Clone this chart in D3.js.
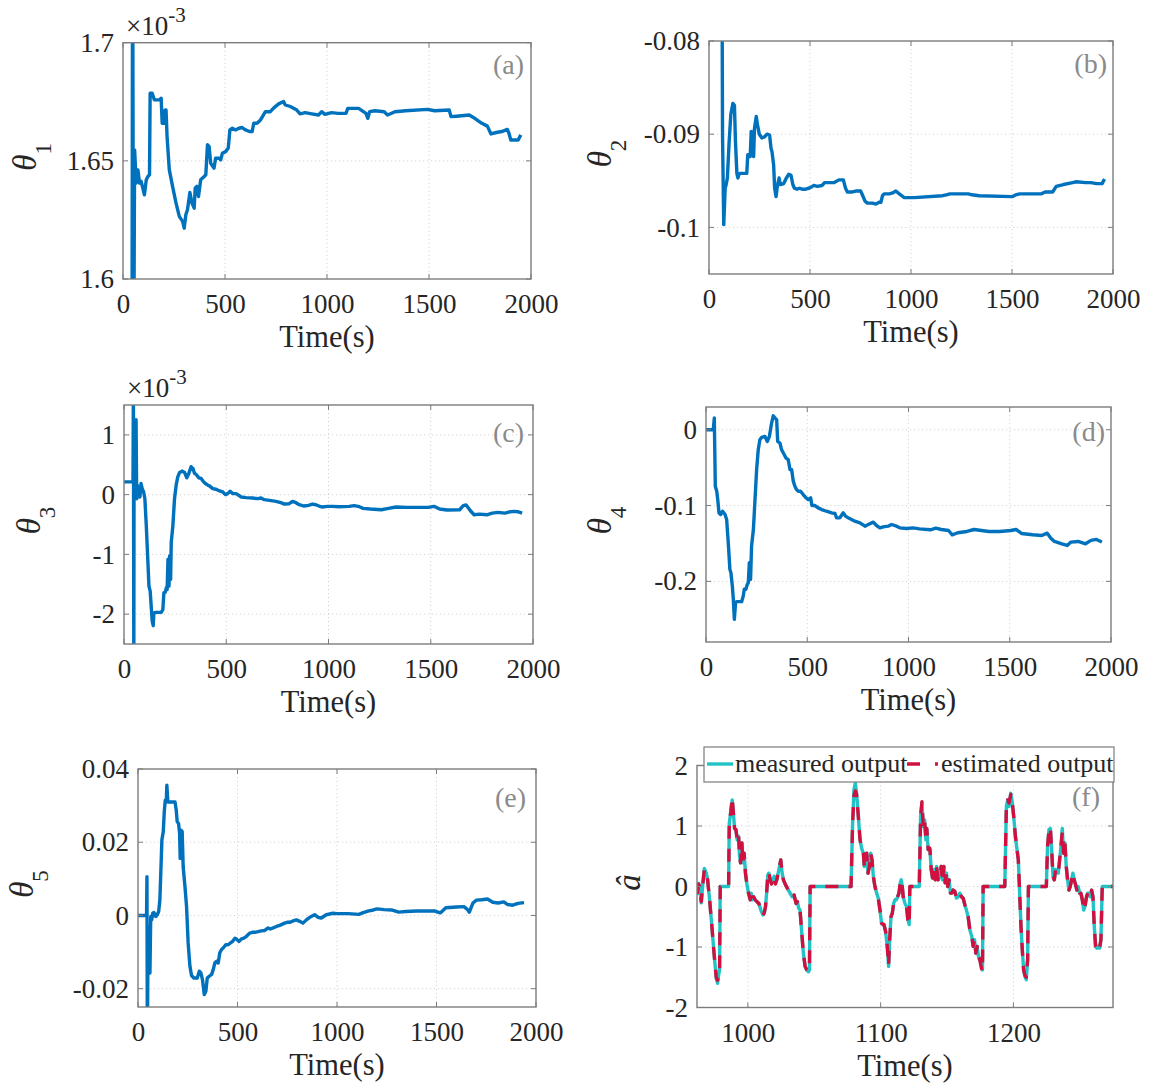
<!DOCTYPE html>
<html><head><meta charset="utf-8">
<script src="https://cdn.jsdelivr.net/npm/d3@7"></script>
<style>
body{margin:0;background:#fff}
svg{display:block}
svg text, svg tspan{font-family:"Liberation Serif","Times New Roman",serif !important}
</style>
</head><body>
<svg id="c" width="1150" height="1090"></svg>
<script>
// ---------- data ----------
const timeTicks=[0,500,1000,1500,2000];
const fTimeTicks=[1000,1100,1200];
const ticksA=[1.6,1.65,1.7];
const ticksB=[-0.1,-0.09,-0.08];
const ticksC=[-2,-1,0,1];
const ticksD=[-0.2,-0.1,0];
const ticksE=[-0.02,0,0.02,0.04];
const ticksF=[-2,-1,0,1,2];
const panelTags=["(a)","(b)","(c)","(d)","(e)","(f)"];
const legendLabels=["measured output","estimated output"];

// theta1 (x1e-3)
const theta1=[[0,1.55],[44,1.55],[47,1.76],[52,1.55],[57,1.6546],[65,1.6406],[73,1.6462],[81,1.6406],[89,1.6413],[105,1.6356],[114,1.642],[122,1.6434],[130,1.6441],[133,1.6786],[143,1.6786],[154,1.6758],[179,1.6758],[187,1.6765],[192,1.6659],[200,1.6659],[206,1.6715],[211,1.6715],[216,1.6603],[227,1.6462],[243,1.6392],[260,1.6321],[276,1.6265],[292,1.6244],[300,1.6215],[308,1.6272],[316,1.6293],[328,1.6366],[338,1.6321],[349,1.63],[354,1.6385],[362,1.6392],[370,1.6349],[381,1.642],[398,1.6434],[406,1.6441],[414,1.6568],[422,1.6561],[430,1.649],[446,1.6469],[454,1.6511],[471,1.6511],[479,1.6504],[487,1.6532],[503,1.6539],[516,1.6554],[524,1.6631],[536,1.6638],[552,1.6631],[568,1.6638],[584,1.6641],[600,1.6631],[620,1.6624],[633,1.6624],[641,1.6659],[657,1.6659],[674,1.6673],[682,1.6685],[698,1.6708],[722,1.6708],[738,1.6723],[763,1.6741],[787,1.6751],[795,1.6737],[820,1.673],[852,1.6715],[868,1.6699],[893,1.6704],[925,1.6699],[958,1.6694],[974,1.6708],[990,1.6697],[1022,1.6704],[1055,1.6701],[1093,1.6701],[1102,1.6722],[1155,1.6722],[1191,1.6701],[1200,1.668],[1209,1.6708],[1235,1.6712],[1280,1.6708],[1297,1.6694],[1333,1.6708],[1386,1.6712],[1493,1.6718],[1528,1.6712],[1599,1.6715],[1608,1.6687],[1635,1.6689],[1697,1.6694],[1724,1.668],[1759,1.6659],[1786,1.6647],[1804,1.6614],[1830,1.662],[1857,1.6624],[1884,1.6633],[1892,1.6617],[1901,1.6588],[1937,1.6588],[1950,1.661]];

const theta2=[[0,-0.07],[64,-0.07],[67,-0.0901],[73,-0.0997],[80,-0.0958],[85,-0.0954],[91,-0.0947],[99,-0.0911],[108,-0.0879],[118,-0.0867],[126,-0.0869],[131,-0.0908],[138,-0.0942],[143,-0.0947],[149,-0.0943],[154,-0.0942],[187,-0.0942],[192,-0.0922],[199,-0.0922],[204,-0.0924],[209,-0.0897],[217,-0.0899],[221,-0.0924],[225,-0.0894],[234,-0.0881],[240,-0.089],[249,-0.09],[262,-0.0904],[274,-0.0903],[287,-0.09],[300,-0.0901],[307,-0.0915],[312,-0.0919],[320,-0.0933],[325,-0.0958],[332,-0.0967],[337,-0.0958],[342,-0.0952],[347,-0.0947],[353,-0.0954],[370,-0.0953],[383,-0.0947],[395,-0.0943],[406,-0.0944],[415,-0.0954],[423,-0.0958],[436,-0.0959],[448,-0.0958],[461,-0.0959],[478,-0.0959],[494,-0.0958],[511,-0.0956],[519,-0.0955],[536,-0.0956],[560,-0.0955],[572,-0.0952],[602,-0.0952],[618,-0.0952],[643,-0.0949],[665,-0.0949],[676,-0.0958],[685,-0.0962],[710,-0.0962],[726,-0.0961],[751,-0.0961],[759,-0.0965],[773,-0.0972],[784,-0.0974],[809,-0.0974],[826,-0.0975],[842,-0.0973],[851,-0.0973],[859,-0.0966],[867,-0.0964],[880,-0.0964],[892,-0.0964],[909,-0.0963],[925,-0.0961],[942,-0.0964],[967,-0.0968],[983,-0.0968],[1016,-0.0968],[1156,-0.0966],[1175,-0.0965],[1193,-0.0964],[1284,-0.0964],[1302,-0.0965],[1338,-0.0966],[1501,-0.0967],[1519,-0.0965],[1538,-0.0964],[1646,-0.0964],[1664,-0.0962],[1701,-0.0962],[1719,-0.0956],[1755,-0.0954],[1800,-0.0952],[1819,-0.0951],[1864,-0.0952],[1891,-0.0952],[1918,-0.0953],[1946,-0.0953],[1958,-0.0948]];

// theta3 (x1e-3)
const theta3=[[0,0.214],[44,0.214],[46,1.8],[48,-2.8],[49,-0.068],[52,1.227],[55,0.214],[59,1.255],[62,-0.068],[65,0.158],[68,-0.039],[73,0.101],[78,-0.039],[83,0.186],[89,0.101],[96,0.045],[102,-0.068],[109,-0.518],[117,-1.137],[122,-1.531],[128,-1.615],[133,-1.868],[138,-2.121],[143,-2.194],[146,-1.981],[154,-1.97],[182,-1.97],[190,-1.925],[195,-1.643],[202,-1.632],[207,-1.559],[211,-1.587],[215,-1.081],[220,-1.531],[223,-1.025],[228,-1.418],[231,-0.799],[239,-0.518],[247,-0.068],[255,0.158],[263,0.298],[272,0.371],[285,0.394],[296,0.371],[307,0.281],[317,0.355],[328,0.467],[337,0.439],[345,0.355],[353,0.338],[366,0.281],[377,0.27],[389,0.214],[398,0.186],[410,0.158],[418,0.146],[434,0.101],[450,0.09],[467,0.062],[483,0.045],[496,0],[507,0.017],[519,0.056],[532,0.017],[548,0.017],[561,-0.011],[572,-0.039],[597,-0.051],[629,-0.056],[654,-0.068],[670,-0.056],[686,-0.084],[711,-0.096],[743,-0.113],[767,-0.135],[784,-0.158],[808,-0.152],[824,-0.113],[841,-0.135],[857,-0.169],[881,-0.191],[902,-0.18],[922,-0.158],[938,-0.169],[954,-0.191],[970,-0.208],[995,-0.197],[1020,-0.197],[1052,-0.203],[1101,-0.197],[1125,-0.185],[1151,-0.202],[1169,-0.23],[1205,-0.241],[1258,-0.253],[1294,-0.23],[1329,-0.207],[1383,-0.213],[1436,-0.213],[1489,-0.213],[1516,-0.196],[1543,-0.241],[1579,-0.258],[1641,-0.253],[1659,-0.185],[1673,-0.174],[1694,-0.27],[1712,-0.337],[1739,-0.326],[1774,-0.337],[1801,-0.309],[1828,-0.298],[1863,-0.309],[1890,-0.286],[1908,-0.281],[1925,-0.286],[1947,-0.309]];

const theta4=[[0,0],[36,0],[41,0.0154],[46,-0.0746],[53,-0.0811],[58,-0.0921],[64,-0.1096],[72,-0.1118],[82,-0.1075],[94,-0.1118],[102,-0.1184],[110,-0.1491],[118,-0.1842],[123,-0.1886],[130,-0.2061],[135,-0.2237],[140,-0.25],[146,-0.2281],[151,-0.2268],[176,-0.2268],[184,-0.2193],[189,-0.2105],[197,-0.2105],[204,-0.2039],[209,-0.2018],[214,-0.1754],[220,-0.1974],[225,-0.1535],[234,-0.1316],[242,-0.0921],[250,-0.0526],[258,-0.0263],[266,-0.0132],[275,-0.0101],[291,-0.0088],[303,-0.0154],[313,-0.0088],[324,0.0088],[332,0.0184],[341,0.0154],[349,0.0132],[354,-0.0154],[365,-0.0175],[373,-0.0263],[382,-0.0307],[395,-0.0373],[406,-0.0395],[415,-0.0526],[423,-0.0526],[431,-0.068],[439,-0.0746],[447,-0.0789],[456,-0.0811],[467,-0.0811],[480,-0.0855],[494,-0.0899],[505,-0.0921],[517,-0.0899],[523,-0.1],[538,-0.1],[554,-0.1031],[571,-0.1053],[595,-0.1075],[620,-0.1096],[637,-0.1105],[645,-0.1162],[661,-0.1162],[678,-0.1096],[689,-0.114],[702,-0.1162],[719,-0.1184],[735,-0.1206],[760,-0.1228],[785,-0.1272],[801,-0.125],[826,-0.1219],[842,-0.1263],[859,-0.1294],[875,-0.1281],[900,-0.1272],[916,-0.125],[941,-0.1272],[957,-0.1294],[990,-0.1303],[1023,-0.1294],[1054,-0.1307],[1108,-0.132],[1135,-0.1298],[1162,-0.1316],[1198,-0.1329],[1216,-0.1386],[1243,-0.1359],[1288,-0.1342],[1324,-0.1316],[1360,-0.1329],[1397,-0.1342],[1450,-0.1342],[1505,-0.1329],[1531,-0.1316],[1558,-0.1368],[1613,-0.1386],[1658,-0.1395],[1685,-0.1364],[1703,-0.143],[1721,-0.1474],[1757,-0.1504],[1784,-0.1526],[1802,-0.1482],[1838,-0.1474],[1874,-0.1504],[1901,-0.146],[1928,-0.1447],[1955,-0.1482]];

const theta5=[[0,0],[43,0],[45,0.0106],[47,-0.035],[51,-0.003],[55,-0.0157],[57,-0.0139],[60,-0.0157],[64,-0.0003],[69,-0.0012],[74,0.0006],[80,0.0008],[89,-0.0003],[97,0.0002],[104,0.0011],[110,0.0043],[115,0.0124],[120,0.0206],[127,0.0229],[132,0.0283],[137,0.0315],[142,0.031],[145,0.0356],[150,0.031],[161,0.031],[186,0.031],[192,0.0288],[197,0.0256],[204,0.0251],[209,0.0224],[212,0.0156],[216,0.0233],[222,0.0229],[227,0.0133],[236,0.0079],[244,0.0024],[252,-0.0075],[261,-0.0139],[269,-0.0164],[281,-0.0171],[298,-0.0171],[308,-0.0152],[316,-0.0157],[324,-0.0175],[333,-0.0216],[341,-0.0207],[348,-0.0171],[358,-0.0166],[370,-0.0161],[378,-0.0148],[386,-0.013],[395,-0.0125],[403,-0.013],[411,-0.0102],[420,-0.0093],[428,-0.0089],[441,-0.008],[453,-0.008],[465,-0.0075],[475,-0.0071],[487,-0.0062],[498,-0.0066],[508,-0.0071],[520,-0.0064],[532,-0.0062],[545,-0.0057],[562,-0.0048],[575,-0.0046],[587,-0.0046],[604,-0.0044],[620,-0.0042],[637,-0.0041],[654,-0.0034],[665,-0.0037],[679,-0.0034],[696,-0.003],[712,-0.0027],[737,-0.0021],[754,-0.0018],[762,-0.0019],[779,-0.0015],[796,-0.0012],[813,-0.0016],[829,-0.0021],[846,-0.0012],[863,-0.0005],[888,0.0002],[905,-0.0005],[921,-0.0007],[946,0.0002],[980,0.0006],[1000,0.0005],[1055,0.0005],[1110,0.0003],[1128,0.0007],[1155,0.0012],[1183,0.0015],[1201,0.0018],[1237,0.0016],[1274,0.0015],[1310,0.0009],[1346,0.0011],[1401,0.0012],[1456,0.0012],[1492,0.0012],[1519,0.0007],[1547,0.0021],[1601,0.0023],[1638,0.0024],[1656,0.0016],[1665,0.0009],[1683,0.0034],[1701,0.0042],[1728,0.0043],[1756,0.0045],[1783,0.0036],[1810,0.0034],[1838,0.0037],[1856,0.003],[1883,0.0028],[1910,0.0033],[1940,0.0035]];

const measured=[[962.0,-0.14],[962.9,0.05],[963.7,0],[964.9,-0.27],[965.9,0],[967.2,0.30],[968.7,0.22],[969.7,0.11],[971.2,-0.22],[972.9,-0.66],[974.1,-0.99],[975.4,-1.32],[976.2,-1.52],[977.2,-1.60],[978.2,-1.43],[978.7,-1.38],[979.2,0],[985.5,0],[986.0,1.05],[987.2,1.24],[988.2,1.43],[989.0,1.24],[990.0,0.96],[991.0,0.94],[992.0,0.77],[993.0,0.83],[993.7,0.52],[994.5,0.39],[995.5,0.72],[996.2,0.39],[997.2,0.55],[998.2,0.22],[999.2,0.05],[1000.5,-0.11],[1001.8,-0.22],[1002.5,-0.11],[1003.3,-0.22],[1004.3,-0.17],[1005.5,-0.22],[1006.8,-0.25],[1008.3,-0.28],[1009.8,-0.39],[1011.3,-0.47],[1012.3,-0.44],[1013.3,-0.33],[1014.3,-0.06],[1015.0,0.19],[1015.8,0.22],[1016.8,0.11],[1017.8,0.06],[1018.8,0.11],[1019.8,0.17],[1020.8,0.06],[1021.8,0.11],[1022.8,0.22],[1023.8,0.33],[1024.8,0.44],[1025.8,0.22],[1026.8,0.11],[1028.3,0.03],[1029.8,-0.03],[1031.8,-0.11],[1033.3,-0.17],[1034.8,-0.14],[1036.3,-0.28],[1037.3,-0.25],[1038.3,-0.36],[1039.3,-0.39],[1040.6,-0.77],[1041.8,-1.10],[1043.1,-1.32],[1044.4,-1.38],[1045.6,-1.41],[1046.4,-1.38],[1046.9,0],[1077.7,0],[1078.9,1.05],[1079.9,1.60],[1080.9,1.71],[1081.9,1.54],[1083.2,1.16],[1084.5,0.77],[1085.7,0.63],[1087.0,0.55],[1087.7,0.33],[1088.5,0.50],[1089.5,0.55],[1090.5,0.22],[1091.5,0.33],[1092.5,0.55],[1093.5,0.44],[1094.5,0.17],[1095.7,0],[1097.0,-0.11],[1098.2,-0.19],[1099.5,-0.39],[1100.7,-0.61],[1102.5,-0.63],[1103.7,-0.74],[1105.0,-0.99],[1106.0,-1.32],[1106.8,-0.88],[1107.8,-0.50],[1108.8,-0.44],[1109.8,-0.28],[1110.8,-0.22],[1111.8,-0.22],[1112.8,-0.17],[1113.8,-0.11],[1114.8,0.06],[1115.5,0.11],[1116.3,0],[1117.0,-0.17],[1118.3,-0.28],[1119.5,-0.33],[1120.5,-0.55],[1121.5,-0.63],[1122.0,0],[1129.1,0],[1130.1,1.16],[1131.1,1.38],[1132.1,0.99],[1133.1,1.10],[1134.1,0.77],[1134.8,0.94],[1135.8,0.61],[1137.1,0.61],[1138.1,0.28],[1139.1,0.14],[1140.1,0.28],[1141.1,0.11],[1142.1,0.33],[1143.3,0.11],[1144.6,0.17],[1145.6,0.33],[1146.6,0.11],[1147.6,0.33],[1148.6,0.06],[1149.6,0.22],[1150.6,0],[1151.6,0.11],[1152.6,-0.11],[1153.6,-0.11],[1154.6,-0.06],[1155.9,-0.08],[1157.1,-0.19],[1158.4,-0.17],[1159.6,-0.11],[1160.9,-0.17],[1162.1,-0.19],[1163.4,-0.30],[1164.6,-0.39],[1165.9,-0.50],[1167.2,-0.72],[1168.7,-0.83],[1169.7,-0.99],[1170.7,-0.88],[1171.7,-1.10],[1172.7,-0.99],[1173.7,-1.16],[1174.7,-1.21],[1175.9,-1.32],[1176.7,-1.38],[1177.2,0],[1193.5,0],[1194.7,1.32],[1195.7,1.43],[1196.7,1.32],[1198.0,1.54],[1199.2,1.38],[1200.2,1.16],[1201.5,0.83],[1202.7,0.61],[1203.7,0.44],[1204.7,-0.11],[1205.7,-0.66],[1206.7,-1.05],[1207.7,-1.38],[1208.7,-1.49],[1209.7,-1.54],[1210.7,-1.21],[1211.3,0],[1224.8,0],[1225.7,0.66],[1226.8,0.94],[1227.8,0.96],[1228.8,0.61],[1229.8,0.17],[1230.8,0.11],[1231.8,0.28],[1232.8,0.25],[1233.8,0.22],[1234.8,0.44],[1235.8,0.66],[1236.8,0.96],[1237.8,0.55],[1238.8,0.72],[1239.8,0.33],[1240.8,0.11],[1241.8,-0.06],[1242.8,0],[1243.8,0.11],[1244.8,0.22],[1245.8,0.11],[1246.8,0.03],[1247.8,-0.06],[1248.8,0],[1249.8,-0.11],[1250.8,-0.11],[1251.9,-0.22],[1252.9,-0.39],[1253.9,-0.33],[1254.9,-0.19],[1255.9,-0.11],[1256.9,-0.11],[1257.9,-0.17],[1258.9,-0.06],[1259.9,-0.17],[1260.9,-0.66],[1261.9,-0.99],[1262.9,-1.02],[1263.9,-0.99],[1264.9,-1.02],[1265.9,-0.88],[1266.9,0],[1275,0]];

const estimated=[[962.0,-0.12],[962.9,0.04],[963.7,0],[964.9,-0.25],[965.9,0],[967.2,0.28],[968.7,0.22],[969.7,0.11],[971.2,-0.22],[972.9,-0.66],[974.1,-0.99],[975.4,-1.32],[976.2,-1.50],[977.2,-1.55],[978.2,-1.43],[978.7,-1.38],[979.2,0],[985.5,0],[986.0,1.05],[987.2,1.24],[988.2,1.47],[989.0,1.24],[990.0,0.96],[991.0,0.94],[992.0,0.77],[993.0,0.86],[993.7,0.52],[994.5,0.39],[995.5,0.72],[996.2,0.39],[997.2,0.55],[998.2,0.22],[999.2,0.05],[1000.5,-0.11],[1001.8,-0.22],[1002.5,-0.11],[1003.3,-0.22],[1004.3,-0.17],[1005.5,-0.22],[1006.8,-0.25],[1008.3,-0.28],[1009.8,-0.39],[1011.3,-0.47],[1012.3,-0.44],[1013.3,-0.33],[1014.3,-0.06],[1015.0,0.19],[1015.8,0.24],[1016.8,0.11],[1017.8,0.04],[1018.8,0.11],[1019.8,0.17],[1020.8,0.04],[1021.8,0.11],[1022.8,0.22],[1023.8,0.33],[1024.8,0.44],[1025.8,0.22],[1026.8,0.11],[1028.3,0.03],[1029.8,-0.03],[1031.8,-0.11],[1033.3,-0.17],[1034.8,-0.14],[1036.3,-0.28],[1037.3,-0.25],[1038.3,-0.36],[1039.3,-0.39],[1040.6,-0.77],[1041.8,-1.10],[1043.1,-1.32],[1044.4,-1.38],[1045.6,-1.40],[1046.4,-1.38],[1046.9,0],[1077.7,0],[1078.9,1.05],[1079.9,1.50],[1080.9,1.58],[1081.9,1.52],[1083.2,1.16],[1084.5,0.77],[1085.7,0.63],[1087.0,0.55],[1087.7,0.33],[1088.5,0.52],[1089.5,0.55],[1090.5,0.22],[1091.5,0.33],[1092.5,0.55],[1093.5,0.44],[1094.5,0.17],[1095.7,0],[1097.0,-0.11],[1098.2,-0.19],[1099.5,-0.39],[1100.7,-0.61],[1102.5,-0.63],[1103.7,-0.74],[1105.0,-0.99],[1106.0,-1.30],[1106.8,-0.88],[1107.8,-0.50],[1108.8,-0.44],[1109.8,-0.28],[1110.8,-0.22],[1111.8,-0.22],[1112.8,-0.17],[1113.8,-0.11],[1114.8,0.06],[1115.5,0.11],[1116.3,0],[1117.0,-0.17],[1118.3,-0.28],[1119.5,-0.33],[1120.5,-0.55],[1121.5,-0.63],[1122.0,0],[1129.1,0],[1130.1,1.16],[1131.1,1.40],[1132.1,0.99],[1133.1,1.10],[1134.1,0.77],[1134.8,0.96],[1135.8,0.61],[1137.1,0.63],[1138.1,0.28],[1139.1,0.14],[1140.1,0.28],[1141.1,0.11],[1142.1,0.33],[1143.3,0.11],[1144.6,0.17],[1145.6,0.33],[1146.6,0.08],[1147.6,0.33],[1148.6,0.06],[1149.6,0.22],[1150.6,0],[1151.6,0.11],[1152.6,-0.11],[1153.6,-0.11],[1154.6,-0.06],[1155.9,-0.08],[1157.1,-0.19],[1158.4,-0.17],[1159.6,-0.11],[1160.9,-0.17],[1162.1,-0.19],[1163.4,-0.30],[1164.6,-0.39],[1165.9,-0.50],[1167.2,-0.72],[1168.7,-0.83],[1169.7,-0.99],[1170.7,-0.88],[1171.7,-1.10],[1172.7,-0.99],[1173.7,-1.16],[1174.7,-1.21],[1175.9,-1.35],[1176.7,-1.40],[1177.2,0],[1193.5,0],[1194.7,1.32],[1195.7,1.43],[1196.7,1.38],[1198.0,1.52],[1199.2,1.38],[1200.2,1.16],[1201.5,0.83],[1202.7,0.61],[1203.7,0.44],[1204.7,-0.11],[1205.7,-0.66],[1206.7,-1.05],[1207.7,-1.38],[1208.7,-1.47],[1209.7,-1.50],[1210.7,-1.21],[1211.3,0],[1224.8,0],[1225.7,0.66],[1226.8,0.94],[1227.8,0.98],[1228.8,0.61],[1229.8,0.17],[1230.8,0.11],[1231.8,0.28],[1232.8,0.25],[1233.8,0.22],[1234.8,0.44],[1235.8,0.66],[1236.8,0.90],[1237.8,0.55],[1238.8,0.72],[1239.8,0.33],[1240.8,0.11],[1241.8,-0.06],[1242.8,0],[1243.8,0.11],[1244.8,0.22],[1245.8,0.11],[1246.8,0.03],[1247.8,-0.06],[1248.8,0],[1249.8,-0.11],[1250.8,-0.11],[1251.9,-0.22],[1252.9,-0.39],[1253.9,-0.33],[1254.9,-0.19],[1255.9,-0.11],[1256.9,-0.11],[1257.9,-0.17],[1258.9,-0.06],[1259.9,-0.17],[1260.9,-0.66],[1261.9,-0.99],[1262.9,-1.04],[1263.9,-0.99],[1264.9,-1.02],[1265.9,-0.88],[1266.9,0],[1275,0]];

// ---------- layout ----------
const panels=[
 {box:[123,42.7,531,279],xd:[0,2000],yd:[1.6,1.7],xt:timeTicks,yt:ticksA,series:[theta1],ylab:["θ","1"],labX:36,exp:true,tag:[524,31]},
 {box:[709,41,1113,274],xd:[0,2000],yd:[-0.105,-0.08],xt:timeTicks,yt:ticksB,series:[theta2],ylab:["θ","2"],labX:611,exp:false,tag:[1107,32]},
 {box:[124,405,533,644],xd:[0,2000],yd:[-2.5,1.5],xt:timeTicks,yt:ticksC,series:[theta3],ylab:["θ","3"],labX:40,exp:true,tag:[524,37]},
 {box:[706,407,1111,642],xd:[0,2000],yd:[-0.28,0.03],xt:timeTicks,yt:ticksD,series:[theta4],ylab:["θ","4"],labX:611,exp:false,tag:[1105,34]},
 {box:[138,769,536,1007],xd:[0,2000],yd:[-0.025,0.04],xt:timeTicks,yt:ticksE,series:[theta5],ylab:["θ","5"],labX:33,exp:false,tag:[526,38]},
 {box:[697,765.5,1113,1007.5],xd:[961.7,1275],yd:[-2,2],xt:fTimeTicks,yt:ticksF,series:[measured,estimated],ylab:["â",""],labX:640,exp:false,tag:[1100,40]}
];

const svg=d3.select('#c');
const boxColor='#7c7c7c', textColor='#262626';
const SERIF='"Liberation Serif","Times New Roman",serif';

panels.forEach((p,i)=>{
  const [x0,y0,x1,y1]=p.box;
  const x=d3.scaleLinear().domain(p.xd).range([x0,x1]);
  const y=d3.scaleLinear().domain(p.yd).range([y1,y0]);
  const g=svg.append('g');
  const clipId='clip'+i;
  g.append('clipPath').attr('id',clipId).append('rect')
    .attr('x',x0).attr('y',y0).attr('width',x1-x0).attr('height',y1-y0);

  // grid
  const gx=p.xt.filter(v=>x(v)>x0+1&&x(v)<x1-1), gy=p.yt.filter(v=>y(v)>y0+1&&y(v)<y1-1);
  g.append('g').selectAll('line').data(gx).join('line')
    .attr('x1',d=>x(d)).attr('x2',d=>x(d)).attr('y1',y0).attr('y2',y1)
    .attr('stroke','#cfcfcf').attr('stroke-width',0.9).attr('stroke-dasharray','1.2,2.8');
  g.append('g').selectAll('line').data(gy).join('line')
    .attr('y1',d=>y(d)).attr('y2',d=>y(d)).attr('x1',x0).attr('x2',x1)
    .attr('stroke','#cfcfcf').attr('stroke-width',0.9).attr('stroke-dasharray','1.2,2.8');

  // data lines
  const line=d3.line().x(d=>x(d[0])).y(d=>y(d[1]));
  const lg=g.append('g').attr('clip-path',`url(#${clipId})`);
  if(p.series.length===1){
    lg.append('path').attr('d',line(p.series[0])).attr('fill','none')
      .attr('stroke','#0072BD').attr('stroke-width',3.4).attr('stroke-linejoin','round');
  } else {
    lg.append('path').attr('d',line(p.series[0])).attr('fill','none')
      .attr('stroke','#22C3C6').attr('stroke-width',3.4).attr('stroke-linejoin','round');
    lg.append('path').attr('d',line(p.series[1])).attr('fill','none')
      .attr('stroke','#D2103F').attr('stroke-width',3.4).attr('stroke-dasharray','13,10').attr('stroke-linejoin','round');
  }

  // ticks (inward) on all sides
  const tk=g.append('g').attr('stroke',boxColor).attr('stroke-width',1);
  p.xt.forEach(v=>{const X=x(v); if(X<x0-0.5||X>x1+0.5)return;
    tk.append('line').attr('x1',X).attr('x2',X).attr('y1',y1).attr('y2',y1-5);
    tk.append('line').attr('x1',X).attr('x2',X).attr('y1',y0).attr('y2',y0+5);});
  p.yt.forEach(v=>{const Y=y(v);
    tk.append('line').attr('y1',Y).attr('y2',Y).attr('x1',x0).attr('x2',x0+5);
    tk.append('line').attr('y1',Y).attr('y2',Y).attr('x1',x1).attr('x2',x1-5);});

  // box
  g.append('rect').attr('x',x0).attr('y',y0).attr('width',x1-x0).attr('height',y1-y0)
    .attr('fill','none').attr('stroke',boxColor).attr('stroke-width',1.4);

  // axes labels via d3 axes
  const ax=g.append('g').attr('transform',`translate(0,${y1})`)
    .call(d3.axisBottom(x).tickValues(p.xt).tickSize(0).tickPadding(15).tickFormat(d=>String(d)));
  const ay=g.append('g').attr('transform',`translate(${x0},0)`)
    .call(d3.axisLeft(y).tickValues(p.yt).tickSize(0).tickPadding(9).tickFormat(d=>String(d)));
  [ax,ay].forEach(a=>{a.select('.domain').remove();
    a.attr('font-family',null).attr('font-size',null);
    a.selectAll('text').style('font-family',SERIF).style('font-size','27px').attr('fill',textColor);});

  // xlabel
  g.append('text').attr('x',(x0+x1)/2).attr('y',y1+68).attr('text-anchor','middle')
    .style('font-size','30.5px').attr('fill',textColor).text('Time(s)');

  // ylabel
  const cy=(y0+y1)/2-4;
  const yl=g.append('text').attr('transform',`translate(${p.labX},${cy}) rotate(-90)`)
    .attr('text-anchor','middle').attr('fill',textColor);
  yl.append('tspan').style('font-style','italic').style('font-size','33px').text(p.ylab[0]);
  if(p.ylab[1]) yl.append('tspan').style('font-size','23px').attr('dy',15).text(p.ylab[1]);

  // exponent
  if(p.exp){
    const e=g.append('text').attr('x',x0+3).attr('y',y0-8).attr('fill',textColor);
    e.append('tspan').style('font-size','27px').text('×10');
    e.append('tspan').style('font-size','21px').attr('dy',-13).text('-3');
  }

  // panel tag
  g.append('text').attr('x',p.tag[0]).attr('y',y0+p.tag[1]).attr('text-anchor','end')
    .style('font-size','28px').attr('fill','#8a8a8a').text(panelTags[i]);

  // legend for panel f
  if(p.series.length===2){
    const lgd=svg.append('g');
    lgd.append('rect').attr('x',704).attr('y',747).attr('width',410).attr('height',35)
      .attr('fill','#fff').attr('stroke',boxColor).attr('stroke-width',1.2);
    lgd.append('line').attr('x1',707).attr('x2',733).attr('y1',764).attr('y2',764)
      .attr('stroke','#22C3C6').attr('stroke-width',3.4);
    lgd.append('text').attr('x',735).attr('y',772).style('font-size','26px').attr('fill',textColor).text(legendLabels[0]);
    lgd.append('line').attr('x1',907).attr('x2',938).attr('y1',764).attr('y2',764)
      .attr('stroke','#D2103F').attr('stroke-width',3.4).attr('stroke-dasharray','13,15');
    lgd.append('text').attr('x',941).attr('y',772).style('font-size','26px').attr('fill',textColor).text(legendLabels[1]);
  }
});
</script>
</body></html>
